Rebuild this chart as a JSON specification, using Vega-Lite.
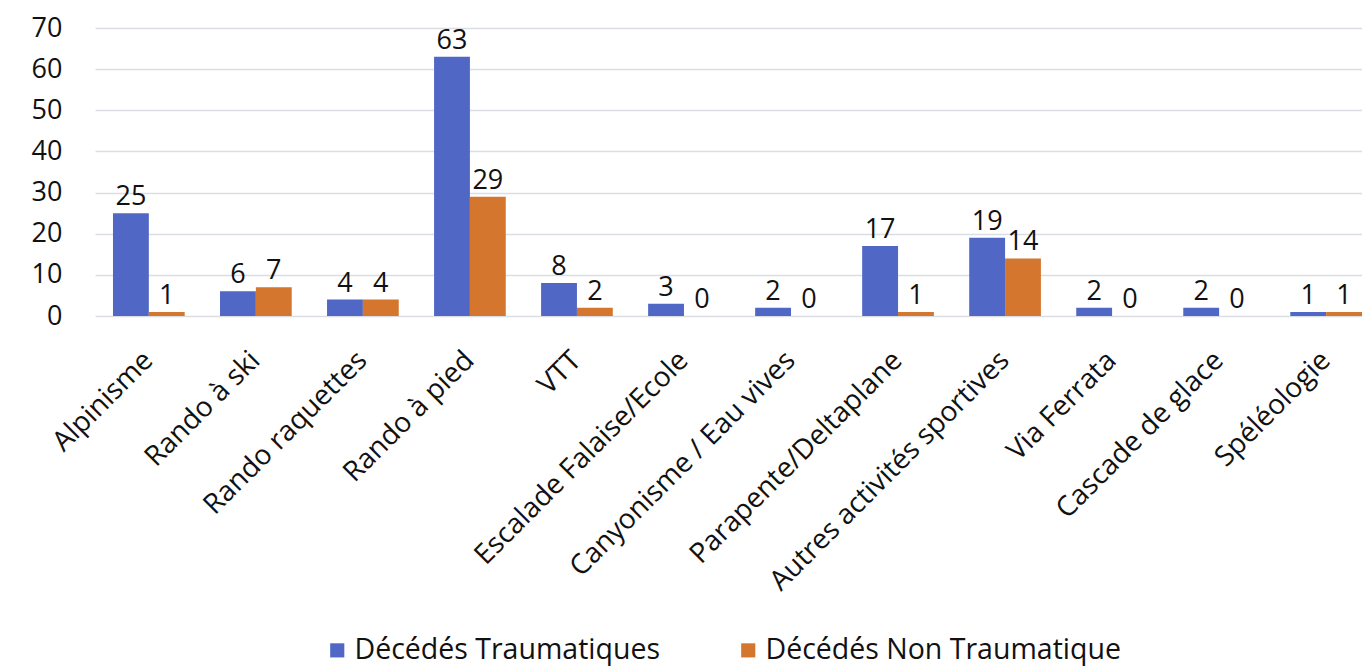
{
  "$schema": "https://vega.github.io/schema/vega-lite/v6.json",
  "width": 1267,
  "height": 288,
  "autosize": "none",
  "padding": {"left": 95, "top": 28, "right": 0, "bottom": 352},
  "background": "white",
  "config": {"font": "Open Sans", "view": {"stroke": null}},
  "data": {
    "values": [
      {"activite": "Alpinisme", "serie": "Décédés Traumatiques", "n": 25},
      {"activite": "Alpinisme", "serie": "Décédés Non Traumatique", "n": 1},
      {"activite": "Rando à ski", "serie": "Décédés Traumatiques", "n": 6},
      {"activite": "Rando à ski", "serie": "Décédés Non Traumatique", "n": 7},
      {"activite": "Rando raquettes", "serie": "Décédés Traumatiques", "n": 4},
      {"activite": "Rando raquettes", "serie": "Décédés Non Traumatique", "n": 4},
      {"activite": "Rando à pied", "serie": "Décédés Traumatiques", "n": 63},
      {"activite": "Rando à pied", "serie": "Décédés Non Traumatique", "n": 29},
      {"activite": "VTT", "serie": "Décédés Traumatiques", "n": 8},
      {"activite": "VTT", "serie": "Décédés Non Traumatique", "n": 2},
      {"activite": "Escalade Falaise/Ecole", "serie": "Décédés Traumatiques", "n": 3},
      {"activite": "Escalade Falaise/Ecole", "serie": "Décédés Non Traumatique", "n": 0},
      {"activite": "Canyonisme / Eau vives", "serie": "Décédés Traumatiques", "n": 2},
      {"activite": "Canyonisme / Eau vives", "serie": "Décédés Non Traumatique", "n": 0},
      {"activite": "Parapente/Deltaplane", "serie": "Décédés Traumatiques", "n": 17},
      {"activite": "Parapente/Deltaplane", "serie": "Décédés Non Traumatique", "n": 1},
      {"activite": "Autres activités sportives", "serie": "Décédés Traumatiques", "n": 19},
      {"activite": "Autres activités sportives", "serie": "Décédés Non Traumatique", "n": 14},
      {"activite": "Via Ferrata", "serie": "Décédés Traumatiques", "n": 2},
      {"activite": "Via Ferrata", "serie": "Décédés Non Traumatique", "n": 0},
      {"activite": "Cascade de glace", "serie": "Décédés Traumatiques", "n": 2},
      {"activite": "Cascade de glace", "serie": "Décédés Non Traumatique", "n": 0},
      {"activite": "Spéléologie", "serie": "Décédés Traumatiques", "n": 1},
      {"activite": "Spéléologie", "serie": "Décédés Non Traumatique", "n": 1}
    ]
  },
  "encoding": {
    "x": {
      "field": "activite",
      "type": "nominal",
      "sort": null,
      "scale": {"paddingInner": 0.33, "paddingOuter": 0.084, "align": 1},
      "axis": {
        "title": null,
        "domain": false,
        "ticks": false,
        "labelAngle": -45,
        "labelAlign": "right",
        "labelBaseline": "middle",
        "labelFontSize": 28,
        "labelColor": "#111111",
        "labelPadding": 40,
        "labelLimit": 600,
        "labelOverlap": false
      }
    },
    "xOffset": {
      "field": "serie",
      "sort": ["Décédés Traumatiques", "Décédés Non Traumatique"],
      "scale": {"paddingInner": 0, "paddingOuter": 0}
    },
    "y": {
      "field": "n",
      "type": "quantitative",
      "scale": {"domain": [0, 70], "nice": false},
      "axis": {
        "title": null,
        "domain": false,
        "ticks": false,
        "values": [0, 10, 20, 30, 40, 50, 60, 70],
        "labelOverlap": false,
        "labelFontSize": 27,
        "labelColor": "#111111",
        "labelPadding": 33,
        "gridColor": "#DADDE4",
        "gridWidth": 1.5
      }
    }
  },
  "layer": [
    {
      "mark": {"type": "bar"},
      "encoding": {
        "color": {
          "field": "serie",
          "type": "nominal",
          "sort": ["Décédés Traumatiques", "Décédés Non Traumatique"],
          "scale": {
            "domain": ["Décédés Traumatiques", "Décédés Non Traumatique"],
            "range": ["#5067C6", "#D4762E"]
          },
          "legend": {
            "title": null,
            "orient": "none",
            "legendX": 228,
            "legendY": 608,
            "direction": "horizontal",
            "symbolType": "square",
            "symbolSize": 200,
            "symbolStrokeWidth": 0,
            "labelFontSize": 28.5,
            "labelColor": "#111111",
            "labelLimit": 600,
            "columnPadding": 74,
            "labelOffset": 3
          }
        }
      }
    },
    {
      "mark": {"type": "text", "baseline": "bottom", "dy": -2, "fontSize": 27, "color": "#111111"},
      "encoding": {"text": {"field": "n", "type": "quantitative"}}
    }
  ]
}
